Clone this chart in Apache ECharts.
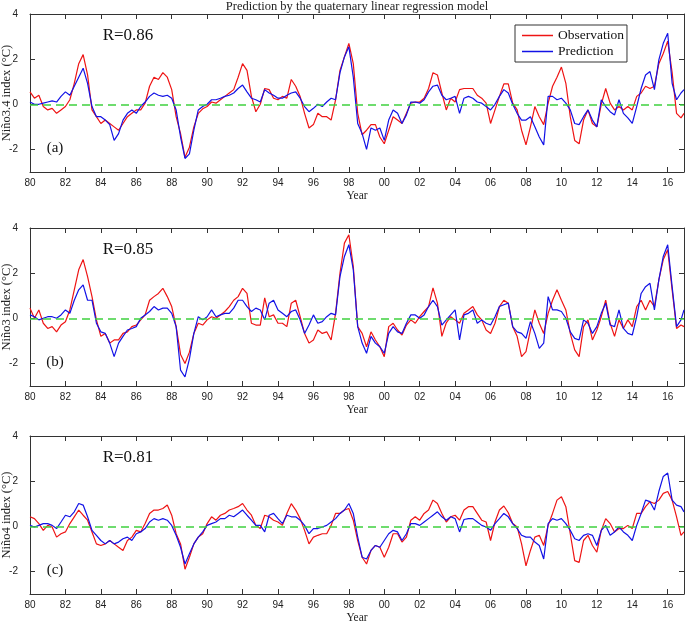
<!DOCTYPE html>
<html><head><meta charset="utf-8">
<script src="https://cdn.jsdelivr.net/npm/echarts@6/dist/echarts.min.js"></script>
<style>html,body{margin:0;padding:0;background:#fff}#c{width:685px;height:622px}</style>
</head><body><div id="c"></div>
<script>
const titleText = 'Prediction by the quaternary linear regression model';
const panelLabels = ['(a)', '(b)', '(c)'];
const rLabels = ['R=0.86', 'R=0.85', 'R=0.81'];
const yNames = ['Niño3.4 index (°C)', 'Niño3 index (°C)', 'Niño4 index (°C)'];
const seriesNames = ['Observation', 'Prediction'];
const yTickValues = [-2, 0, 2, 4];
const xTickYears = [1980,1982,1984,1986,1988,1990,1992,1994,1996,1998,2000,2002,2004,2006,2008,2010,2012,2014,2016];

// sampling times: quarterly from 1980 to late 2016
const times = [];
for (let y = 1980; y <= 2016; y++) for (const q of [0, 0.25, 0.5, 0.75]) times.push(y + q);
times.push(2016.92);

// Panel (a) Nino3.4
const obsA = [
 0.55,0.27,0.4,-0.1, -0.25,-0.18,-0.4,-0.25, -0.1,0.2,0.93,1.8, 2.2,1.3,-0.25,-0.55,
 -0.85,-0.7,-0.85,-1.0, -1.15,-0.85,-0.55,-0.4, -0.25,-0.25,0.05,0.8, 1.2,1.1,1.4,1.2,
 0.65,-0.55,-1.3,-2.35, -1.9,-1.0,-0.4,-0.2, -0.1,0.1,0.05,0.2, 0.35,0.5,0.65,1.2,
 1.8,1.5,0.35,-0.33, 0.0,0.7,0.65,0.27, 0.2,0.35,0.27,1.1, 0.8,0.35,-0.4,-1.05,
 -0.9,-0.4,-0.55,-0.55, -0.7,0.2,1.5,2.1, 2.7,1.8,-0.4,-1.35, -1.15,-0.9,-0.9,-1.45,
 -1.75,-1.15,-0.55,-0.7, -0.85,-0.4,0.05,0.1, 0.1,0.27,0.7,1.4, 1.3,0.5,-0.25,0.27,
 0.1,0.65,0.7,0.7, 0.7,0.4,0.27,0.05, -0.85,-0.25,0.35,0.9, 0.9,0.05,-0.25,-1.15,
 -1.8,-1.0,-0.1,-0.55, -0.9,0.05,0.8,1.2, 1.65,0.93,-0.55,-1.6, -1.75,-0.7,-0.25,-0.85,
 -1.0,0.0,0.7,0.05, -0.25,-0.1,-0.25,-0.1, -0.25,0.35,0.5,0.8, 0.7,0.8,1.8,2.25,
 2.8,1.4,-0.4,-0.6,-0.4
];
const predA = [
 0.1,0.0,0.0,0.05, 0.1,0.15,0.1,0.35, 0.55,0.4,0.8,1.2, 1.6,0.93,-0.1,-0.55,
 -0.55,-0.7,-0.9,-1.6, -1.3,-0.7,-0.4,-0.25, -0.4,-0.1,0.1,0.35, 0.5,0.4,0.35,0.4,
 0.27,-0.25,-1.45,-2.4, -2.2,-1.15,-0.25,-0.1, 0.0,0.2,0.2,0.27, 0.35,0.4,0.5,0.7,
 0.85,0.55,0.27,0.2, 0.1,0.65,0.5,0.4, 0.27,0.27,0.4,0.5, 0.55,0.27,-0.1,-0.33,
 -0.18,0.0,-0.1,0.1, 0.27,0.2,1.4,2.1, 2.55,1.2,-0.85,-1.3, -2.0,-1.05,-1.15,-1.05,
 -1.6,-0.7,-0.25,-0.4, -0.85,-0.47,0.1,0.1, 0.05,0.2,0.55,0.8, 0.85,0.4,0.2,0.27,
 0.35,-0.4,0.27,0.35, 0.27,0.1,0.05,-0.1, -0.25,0.0,0.35,0.65, 0.5,0.0,-0.4,-0.7,
 -0.7,-0.55,-1.0,-1.45, -1.8,0.35,0.35,0.2, 0.27,0.05,-0.25,-0.85, -0.9,-0.55,-0.25,-0.7,
 -1.0,0.2,-0.1,-0.33, -0.47,0.2,-0.4,-0.6, -0.85,-0.1,0.7,1.3, 1.45,0.65,1.97,2.7,
 3.15,0.93,0.2,0.5,0.65
];
// Panel (b) Nino3
const obsB = [
 0.45,0.0,0.37,-0.22, -0.45,-0.37,-0.6,-0.3, -0.15,0.37,1.26,2.15, 2.6,1.85,0.96,-0.07,
 -0.8,-0.67,-1.1,-0.96, -0.96,-0.67,-0.6,-0.37, -0.3,-0.07,0.15,0.8, 0.96,1.1,1.33,0.96,
 0.52,-0.37,-1.6,-2.0, -1.5,-0.67,-0.22,-0.3, -0.07,0.07,0.0,0.15, 0.3,0.52,0.8,0.96,
 1.33,1.1,-0.22,-0.3, -0.3,0.9,0.07,0.15, -0.22,-0.22,-0.37,0.67, 0.8,0.07,-0.67,-1.1,
 -0.96,-0.52,-0.67,-0.6, -0.96,0.22,2.0,3.33, 3.7,2.3,-0.37,-0.67, -1.26,-0.6,-0.96,-1.26,
 -1.7,-0.37,-0.22,-0.52, -0.74,-0.3,-0.07,-0.22, 0.07,0.3,0.52,1.35, 0.67,-0.8,-0.2,0.07,
 -0.07,-0.22,0.22,0.37, 0.52,0.15,-0.07,-0.52, -0.67,-0.22,0.52,0.8, 0.67,-0.37,-0.8,-1.7,
 -1.48,-0.52,0.37,-0.22, -0.67,0.22,0.8,1.26, 0.8,0.37,-0.67,-1.4, -1.7,-0.37,-0.07,-0.96,
 -0.52,0.07,0.8,-0.22, -0.8,-0.07,-0.45,-0.07, -0.37,0.52,0.8,0.37, 0.8,0.52,1.7,2.6,
 3.04,1.26,-0.45,-0.3,-0.37
];
const predB = [
 0.15,0.07,-0.07,0.0, 0.07,0.07,0.0,0.15, 0.37,0.22,0.8,1.26, 1.48,0.8,0.8,-0.22,
 -0.6,-0.67,-1.1,-1.7, -1.1,-0.8,-0.52,-0.45, -0.37,0.0,0.15,0.3, 0.52,0.37,0.45,0.45,
 0.22,-0.37,-2.3,-2.6, -1.8,-0.67,0.07,-0.07, 0.07,0.37,0.07,0.15, 0.22,0.22,0.45,0.8,
 0.8,0.52,0.3,0.45, 0.37,-0.07,0.67,0.8, 0.37,0.22,0.07,0.3, 0.37,-0.07,-0.67,-0.3,
 0.15,-0.22,-0.15,0.07, 0.22,0.15,1.85,2.74, 3.26,2.15,-0.37,-1.1, -1.55,-0.8,-1.1,-1.26,
 -1.55,-0.67,-0.37,-0.6, -0.67,-0.22,0.15,0.15, 0.0,0.15,0.52,0.8, 0.52,-0.3,-0.07,0.15,
 0.37,-0.96,0.15,0.22, 0.37,-0.22,-0.07,-0.22, -0.3,0.07,0.52,0.6, 0.67,-0.37,-0.6,-0.67,
 -0.89,-0.15,-0.67,-1.33, -1.1,0.96,0.37,0.37, 0.3,0.0,-0.6,-0.89, -0.96,-0.07,-0.22,-0.67,
 -0.37,0.22,0.67,-0.3, -0.37,0.37,-0.45,-0.67, -0.74,0.07,1.1,1.4, 1.55,0.37,1.7,2.74,
 3.26,1.4,-0.37,-0.07,0.37
];
// Panel (c) Nino4
const obsC = [
 0.42,0.34,0.12,-0.18, 0.04,-0.03,-0.48,-0.33, -0.25,0.12,0.42,0.72, 0.49,0.27,-0.25,-0.78,
 -0.85,-0.78,-0.63,-0.78, -0.93,-1.07,-0.63,-0.48, -0.18,-0.25,0.12,0.57, 0.72,0.72,0.79,0.94,
 0.49,-0.33,-0.78,-1.9, -1.37,-0.78,-0.48,-0.33, 0.12,0.42,0.27,0.49, 0.57,0.72,0.79,0.87,
 1.01,0.72,0.49,0.04, -0.1,0.49,0.42,0.27, 0.19,0.04,0.57,1.0, 0.72,0.34,-0.18,-0.78,
 -0.48,-0.4,-0.33,-0.33, 0.04,0.57,0.57,0.72, 0.79,0.27,-0.63,-1.37, -1.67,-1.07,-0.85,-0.93,
 -1.37,-0.93,-0.33,-0.33, -0.7,-0.48,0.27,0.42, 0.27,0.57,0.72,1.16, 1.01,0.57,0.19,0.42,
 0.49,0.27,0.72,0.87, 0.87,0.57,0.27,0.19, -0.63,0.19,0.72,0.9, 0.6,0.12,-0.03,-0.78,
 -1.75,-1.07,-0.48,-0.4, -0.85,0.04,0.57,1.16, 1.31,0.87,-0.33,-1.52, -1.6,-0.63,-0.4,-0.85,
 -1.15,-0.18,0.34,0.12, -0.25,-0.1,-0.1,0.04, -0.1,0.57,0.57,0.87, 1.09,1.01,1.16,1.46,
 1.54,1.16,0.42,-0.4,-0.25
];
const predC = [
 0.04,-0.03,0.04,0.12, 0.12,0.04,-0.1,0.19, 0.49,0.42,0.64,1.01, 0.94,0.42,-0.18,-0.4,
 -0.63,-0.78,-0.63,-0.78, -0.7,-0.55,-0.48,-0.63, -0.33,-0.25,-0.1,0.19, 0.34,0.27,0.34,0.27,
 0.04,-0.4,-0.93,-1.67, -1.22,-0.78,-0.48,-0.25, 0.04,0.12,0.19,0.34, 0.34,0.49,0.42,0.57,
 0.72,0.49,0.27,0.04, 0.04,-0.25,0.49,0.57, 0.34,0.12,0.49,0.42, 0.42,0.27,0.04,-0.33,
 -0.1,-0.1,-0.03,0.04, 0.19,0.34,0.57,0.72, 1.01,0.57,-0.48,-1.37, -1.45,-1.07,-0.85,-0.93,
 -0.63,-0.33,-0.18,-0.25, -0.63,-0.33,0.12,0.12, 0.04,0.19,0.34,0.49, 0.64,0.42,0.27,0.42,
 0.34,-0.25,0.3,0.34, 0.34,0.19,0.04,-0.03, -0.18,0.12,0.34,0.57, 0.42,0.12,-0.1,-0.4,
 -0.48,-0.48,-0.7,-0.85, -1.45,0.12,0.34,0.27, 0.34,0.12,-0.18,-0.55, -0.63,-0.4,-0.33,-0.4,
 -0.85,-0.18,0.04,-0.4, -0.25,-0.03,-0.25,-0.4, -0.63,0.04,0.57,1.16, 1.09,0.72,1.54,2.21,
 2.36,1.16,0.94,0.87,0.64
];

const obsAll = [obsA, obsB, obsC];
const predAll = [predA, predB, predC];

const RED = '#ee1414', BLUE = '#1212e6', GREEN = '#3fd13f', AXIS = '#333';
const SERIF = '"Liberation Serif", "Times New Roman", serif';
const SANS = '"Liberation Sans", Arial, sans-serif';
const tops = [14, 228, 436];
const H = 158;

const pairs = vals => vals.map((v, i) => [times[i], v]);

const grid = [], xAxis = [], yAxis = [], series = [], graphic = [];
tops.forEach((top, i) => {
  grid.push({left: 30, width: 654, top: top, height: H, containLabel: false, outerBoundsMode: 'none'});
  const xBase = {gridIndex: i, type: 'value', min: 1980, max: 2016.92,
    axisLine: {show: true, onZero: false, lineStyle: {color: AXIS, width: 1}},
    axisTick: {show: true, inside: true, length: 5, customValues: xTickYears, lineStyle: {color: AXIS}},
    splitLine: {show: false}};
  xAxis.push(Object.assign({}, xBase, {position: 'bottom',
    axisLabel: {show: true, customValues: xTickYears, margin: 6, color: '#222', fontFamily: SANS, fontSize: 10,
      formatter: v => String(Math.round(v) % 100).padStart(2, '0')},
    name: 'Year', nameLocation: 'middle', nameGap: 18, nameMoveOverlap: false,
    nameTextStyle: {fontFamily: SERIF, fontSize: 11.5, color: '#222'}}));
  xAxis.push(Object.assign({}, xBase, {position: 'top', axisLabel: {show: false}}));
  const yBase = {gridIndex: i, type: 'value', min: -3, max: 4,
    axisLine: {show: true, onZero: false, lineStyle: {color: AXIS, width: 1}},
    axisTick: {show: true, inside: true, length: 5, customValues: yTickValues, lineStyle: {color: AXIS}},
    splitLine: {show: false}};
  yAxis.push(Object.assign({}, yBase, {position: 'left',
    axisLabel: {show: true, customValues: yTickValues, margin: 12, color: '#222', fontFamily: SANS, fontSize: 10},
    name: yNames[i], nameLocation: 'middle', nameGap: 17, nameRotate: 90, nameMoveOverlap: false,
    nameTextStyle: {fontFamily: SERIF, fontSize: 12.5, color: '#222'}}));
  yAxis.push(Object.assign({}, yBase, {position: 'right', axisLabel: {show: false}}));

  series.push({type: 'line', name: seriesNames[0], xAxisIndex: 2 * i, yAxisIndex: 2 * i,
    data: pairs(obsAll[i]), symbol: 'none', smooth: false,
    lineStyle: {color: RED, width: 1.2}, itemStyle: {color: RED},
    markLine: {silent: true, symbol: 'none', label: {show: false},
      lineStyle: {color: GREEN, type: [8, 5], width: 1.5}, data: [{yAxis: 0}]}});
  series.push({type: 'line', name: seriesNames[1], xAxisIndex: 2 * i, yAxisIndex: 2 * i,
    data: pairs(predAll[i]), symbol: 'none', smooth: false,
    lineStyle: {color: BLUE, width: 1.2}, itemStyle: {color: BLUE}});

  graphic.push({type: 'text', x: 128, y: top + 22, z: 10,
    style: {text: rLabels[i], font: '17px ' + SERIF, fill: '#111', textAlign: 'center', textVerticalAlign: 'middle'}});
  graphic.push({type: 'text', x: 55, y: top + 134.5, z: 10,
    style: {text: panelLabels[i], font: '15px ' + SERIF, fill: '#111', textAlign: 'center', textVerticalAlign: 'middle'}});
});
graphic.push({type: 'text', x: 357, y: 7, z: 10,
  style: {text: titleText, font: '12.5px ' + SERIF, fill: '#222', textAlign: 'center', textVerticalAlign: 'middle'}});

const chart = echarts.init(document.getElementById('c'), null, {renderer: 'canvas'});
chart.setOption({
  animation: false,
  backgroundColor: '#fff',
  grid, xAxis, yAxis, series, graphic,
  legend: {data: seriesNames, orient: 'vertical', left: 515, top: 25, padding: [3, 3, 3, 7],
    icon: 'rect', itemGap: 1, itemWidth: 31, itemHeight: 1.5, borderColor: '#333', borderWidth: 1, backgroundColor: '#fff',
    textStyle: {fontFamily: SERIF, fontSize: 13.5, color: '#111', lineHeight: 15}}
});
</script></body></html>
